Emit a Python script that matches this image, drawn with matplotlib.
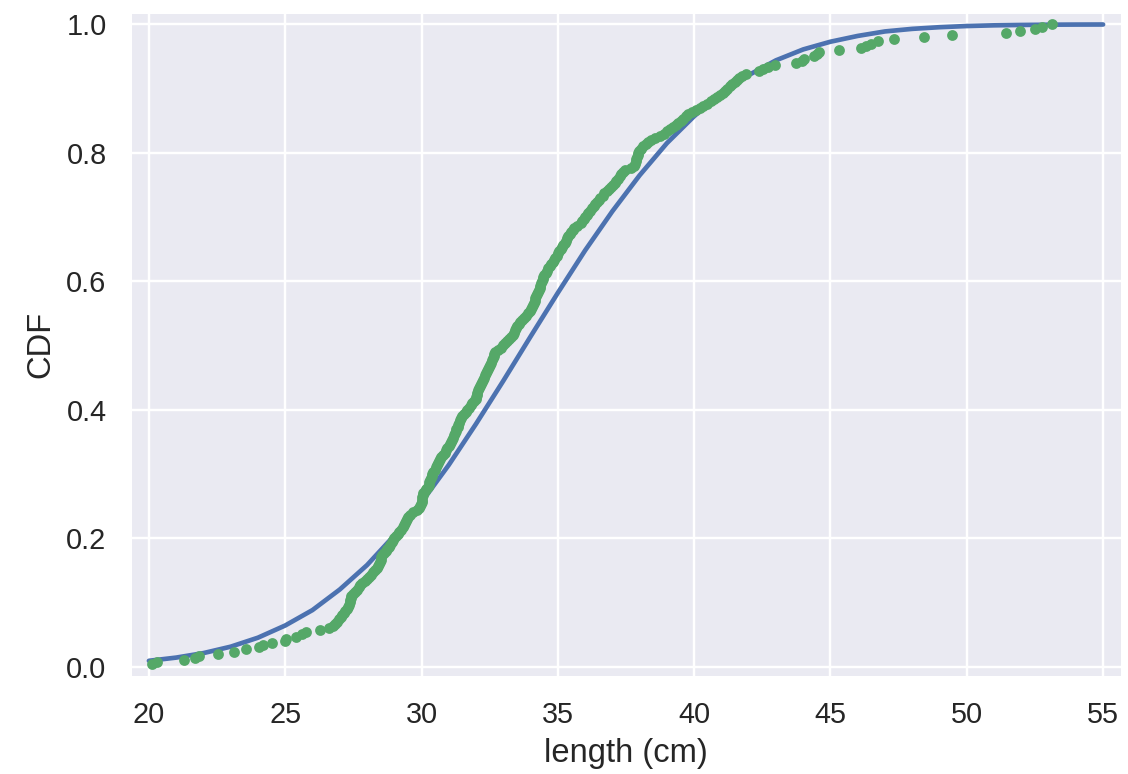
import numpy as np
import matplotlib
matplotlib.use('Agg')
import matplotlib.pyplot as plt
import seaborn as sns

length_cm = [
    20.13, 20.30, 21.30, 21.70, 21.84, 22.53, 23.13, 23.56, 24.05, 24.18,
    24.53, 24.98, 25.02, 25.38, 25.63, 25.75, 26.29, 26.60, 26.75, 26.82,
    26.89, 26.96, 27.03, 27.10, 27.15, 27.20, 27.25, 27.30, 27.34, 27.36,
    27.38, 27.40, 27.42, 27.49, 27.55, 27.62, 27.69, 27.75, 27.82, 27.91,
    28.00, 28.09, 28.16, 28.22, 28.29, 28.35, 28.41, 28.44, 28.47, 28.50,
    28.53, 28.56, 28.62, 28.69, 28.75, 28.81, 28.85, 28.90, 28.94, 29.00,
    29.06, 29.12, 29.18, 29.25, 29.31, 29.36, 29.40, 29.43, 29.47, 29.50,
    29.58, 29.70, 29.82, 29.90, 29.94, 29.98, 30.00, 30.02, 30.03, 30.05,
    30.07, 30.12, 30.17, 30.22, 30.26, 30.29, 30.32, 30.35, 30.38, 30.40,
    30.43, 30.48, 30.52, 30.56, 30.60, 30.64, 30.67, 30.73, 30.79, 30.85,
    30.91, 30.95, 30.99, 31.04, 31.08, 31.12, 31.16, 31.20, 31.22, 31.25,
    31.28, 31.32, 31.35, 31.39, 31.42, 31.46, 31.49, 31.55, 31.62, 31.68,
    31.75, 31.81, 31.86, 31.92, 31.98, 32.01, 32.03, 32.05, 32.08, 32.10,
    32.14, 32.18, 32.22, 32.26, 32.30, 32.33, 32.37, 32.40, 32.44, 32.47,
    32.51, 32.54, 32.58, 32.61, 32.64, 32.67, 32.70, 32.80, 32.90, 33.00,
    33.07, 33.14, 33.21, 33.28, 33.34, 33.38, 33.41, 33.45, 33.50, 33.56,
    33.62, 33.68, 33.76, 33.83, 33.91, 33.98, 34.01, 34.05, 34.08, 34.11,
    34.15, 34.18, 34.21, 34.24, 34.27, 34.30, 34.33, 34.36, 34.39, 34.41,
    34.44, 34.47, 34.50, 34.55, 34.60, 34.65, 34.70, 34.76, 34.81, 34.86,
    34.91, 34.96, 35.01, 35.06, 35.11, 35.15, 35.20, 35.25, 35.30, 35.35,
    35.39, 35.44, 35.49, 35.54, 35.59, 35.72, 35.85, 35.90, 35.96, 36.01,
    36.06, 36.12, 36.18, 36.24, 36.31, 36.37, 36.43, 36.50, 36.56, 36.64,
    36.71, 36.79, 36.87, 36.95, 37.03, 37.09, 37.15, 37.21, 37.27, 37.33,
    37.39, 37.47, 37.70, 37.81, 37.83, 37.86, 37.88, 37.90, 37.93, 37.95,
    37.97, 38.04, 38.13, 38.22, 38.31, 38.41, 38.57, 38.73, 38.89, 38.99,
    39.10, 39.23, 39.32, 39.41, 39.50, 39.60, 39.69, 39.79, 39.92, 40.05,
    40.20, 40.33, 40.47, 40.60, 40.72, 40.84, 40.96, 41.05, 41.13, 41.22,
    41.31, 41.40, 41.48, 41.57, 41.66, 41.75, 41.90, 42.36, 42.54, 42.72,
    42.97, 43.72, 43.96, 44.02, 44.40, 44.49, 44.58, 45.32, 46.13, 46.31,
    46.50, 46.74, 47.32, 48.42, 49.44, 51.42, 51.94, 52.52, 52.76, 53.13,
]

# theoretical CDF curve, read at whole centimetres
theor_x = [20, 21, 22, 23, 24, 25, 26, 27, 28, 29, 30, 31, 32, 33, 34, 35, 36, 37,
           38, 39, 40, 41, 42, 43, 44, 45, 46, 47, 48, 49, 50, 51, 52, 53, 54, 55]
theor_cdf = [0.009, 0.014, 0.021, 0.031, 0.045, 0.064, 0.088, 0.120, 0.158, 0.204,
             0.256, 0.314, 0.378, 0.445, 0.514, 0.582, 0.648, 0.709, 0.765, 0.815,
             0.857, 0.893, 0.921, 0.944, 0.961, 0.973, 0.982, 0.989, 0.993, 0.9956,
             0.9974, 0.9985, 0.9991, 0.9995, 0.9997, 0.9998]

sns.set()
plt.rcParams['font.family'] = ['Liberation Sans', 'DejaVu Sans']

x = np.array(length_cm)
y = np.arange(1, len(x) + 1) / len(x)

fig, ax = plt.subplots(figsize=(6.4, 4.388), dpi=176.4)
fig.subplots_adjust(left=0.115, right=0.994, bottom=0.125, top=0.985)

ax.plot(theor_x, theor_cdf, color='#4C72B0', linewidth=1.9)
ax.plot(x, y, marker='.', markersize=6.8, linestyle='none', color='#55A868')
ax.margins(0.02)
ax.tick_params(labelsize=11.8)
ax.set_xlabel('length (cm)', fontsize=13.4)
ax.set_ylabel('CDF', fontsize=13.4)

fig.savefig('out.png')
